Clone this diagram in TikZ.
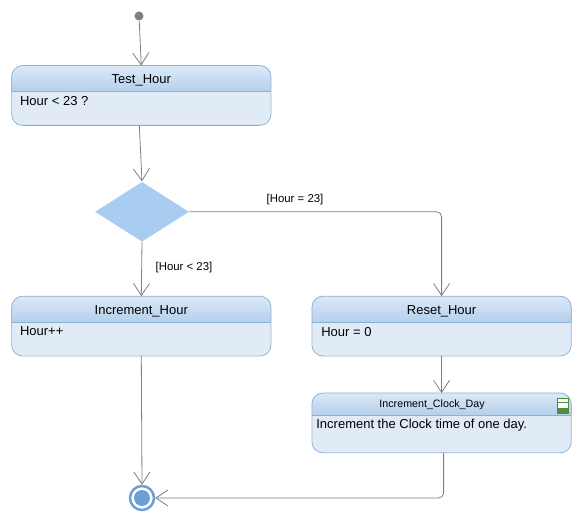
\documentclass[tikz,border=0pt]{standalone}
\usepackage{fontspec}
\setmainfont{Liberation Sans}
\usetikzlibrary{positioning, arrows.meta, shapes.geometric}
\definecolor{edgeblue}{HTML}{8DB1D6}
\definecolor{bodyblue}{HTML}{E1EBF6}
\definecolor{headtop}{HTML}{DCE9F8}
\definecolor{headbot}{HTML}{B5CFEB}
\definecolor{diamblue}{HTML}{A9CDF1}
\definecolor{ringblue}{HTML}{6C9FD8}
\definecolor{wiregray}{HTML}{7F7F7F}
\definecolor{icongreen}{HTML}{4F8F3A}

\begin{document}
\begin{tikzpicture}[x=1pt,y=-1pt,->,>={Straight Barb[length=12pt,width=16pt,line width=0.8pt]},wiregray,line width=0.8pt,font=\fontsize{13}{15}\selectfont,text=black]
\tikzstyle{statebox}=[-,fill=bodyblue,rounded corners=11pt,minimum width=258.5pt,minimum height=59pt,inner sep=0pt]
\tikzstyle{decision}=[-,diamond,fill=diamblue,minimum width=94pt,minimum height=60pt,inner sep=0pt]
\tikzstyle{guard}=[font=\fontsize{11.4}{13}\selectfont,text=black]
\tikzstyle{bodytext}=[anchor=west,inner sep=0pt]
\useasboundingbox (0,0) rectangle (582,521);

\node[circle,fill=wiregray,minimum size=9pt,inner sep=0pt] (start) at (139,16) {};
\node[statebox] (test) at (141.3,95.5) {};
\node[decision,below=56pt of test,xshift=0.7pt] (choice) {};
\node[statebox,below=54pt of choice,xshift=-0.7pt] (inc) {};
\node[statebox,right=41pt of inc] (reset) {};
\node[statebox,below=37pt of reset] (clock) {};
\node[circle,draw=ringblue,line width=2.5pt,fill=white,minimum size=24pt,inner sep=0pt] (final) at (142,498) {};
\node[circle,fill=ringblue,minimum size=16pt,inner sep=0pt] (finaldot) at (final) {};

% header bands
\foreach \st/\head in {test/26,inc/26,reset/26,clock/22}{
\begin{scope}[-]
\clip[rounded corners=11pt] (\st.north west) rectangle (\st.south east);
\shade[top color=headtop,bottom color=headbot] (\st.north west) rectangle ([yshift=-\head pt]\st.north east);
\end{scope}
\draw[-,edgeblue] ([yshift=-\head pt]\st.north west) -- ([yshift=-\head pt]\st.north east);
\draw[-,edgeblue,rounded corners=11pt] (\st.north west) rectangle (\st.south east);
}

\node (testname) at ([yshift=-15pt]test.north) {Test\_Hour};
\node[bodytext] (testbody) at ([xshift=8pt,yshift=-35pt]test.north west) {Hour < 23 ?};
\node (incname) at ([yshift=-15pt]inc.north) {Increment\_Hour};
\node[bodytext] (incbody) at ([xshift=8pt,yshift=-34.5pt]inc.north west) {Hour++};
\node (resetname) at ([yshift=-15pt]reset.north) {Reset\_Hour};
\node[bodytext] (resetbody) at ([xshift=9pt,yshift=-35.5pt]reset.north west) {Hour = 0};
\node[font=\fontsize{10.7}{12}\selectfont] (clockname) at ([xshift=-9.5pt,yshift=-11.5pt]clock.north) {Increment\_Clock\_Day};
\node[bodytext] (clockbody) at ([xshift=4pt,yshift=-32.5pt]clock.north west) {Increment the Clock time of one day.};

% submachine icon
\node[-,draw=icongreen,fill=white,minimum width=11pt,minimum height=15pt,inner sep=0pt] (clockicon) at (562.5,405.5) {};
\fill[icongreen] ([yshift=5pt]clockicon.south west) rectangle (clockicon.south east);
\draw[-,icongreen] ([yshift=-5pt]clockicon.north west) -- ([yshift=-5pt]clockicon.north east);

\draw (start) -- (test.north);
\draw ([xshift=-2pt]test.south) -- (choice.north);
\draw (choice.south) -- (inc.north);
\draw[rounded corners=5pt] (choice.east) -| (reset.north);
\draw (reset.south) -- (clock.north);
\draw (inc.south) -- (final.north);
\draw[rounded corners=5pt] ([xshift=2pt]clock.south) |- (final.east);

\node[guard] (guardb) at (295,199.5) {[Hour = 23]};
\node[guard] (guarda) at (184,267.5) {[Hour < 23]};
\end{tikzpicture}
\end{document}
